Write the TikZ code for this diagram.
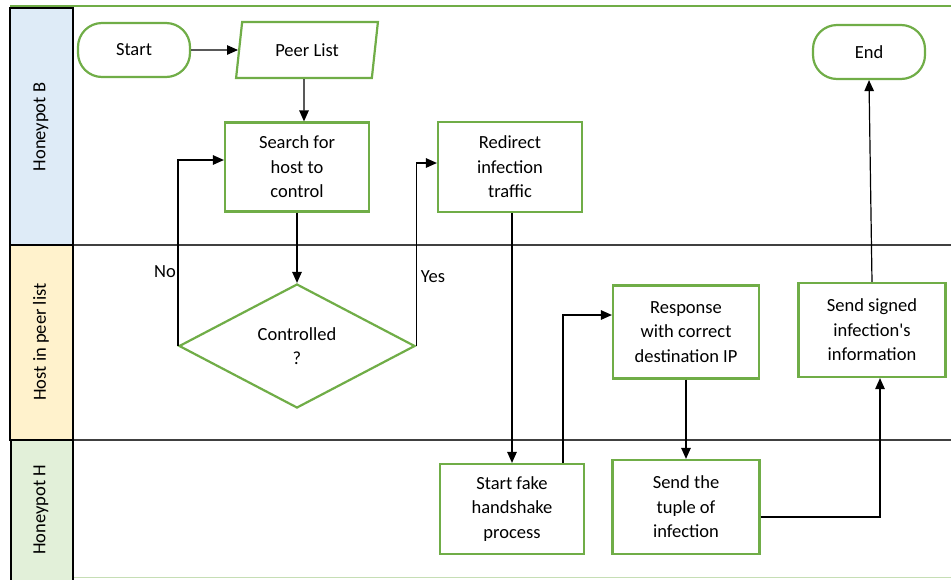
\documentclass[tikz,border=0pt]{standalone}
\usepackage{fontspec}
\setmainfont{Carlito}
\usetikzlibrary{shapes.geometric,arrows.meta}
\definecolor{grn}{HTML}{70AD47}
\definecolor{laneB}{HTML}{DEEBF7}
\definecolor{laneP}{HTML}{FFF2CC}
\definecolor{laneH}{HTML}{E2F0D9}
\definecolor{laneline}{HTML}{404040}
\begin{document}
\begin{tikzpicture}[x=1pt,y=-1pt,
  every node/.style={font=\fontsize{18.5}{24.5}\selectfont},
  proc/.style={draw=grn,line width=2.2pt,fill=white,align=center,inner sep=0pt},
  term/.style={proc,rounded corners=24pt,minimum width=112pt,minimum height=54pt},
  arr/.style={-{Triangle[length=11pt,width=9.5pt]},line width=1.2pt,black},
  lanebox/.style={draw=black,line width=2pt},
  lanetxt/.style={rotate=90}
]
\useasboundingbox (0,0) rectangle (951,579);
% top and bottom rules
\draw[grn,line width=2.5pt] (10,6) -- (951,6);
\draw[grn!40,line width=1pt] (73,577) -- (951,577);
% lane separators
\draw[laneline,line width=1.2pt] (73,245) -- (951,245);
\draw[laneline,line width=1.2pt] (73,440) -- (951,440);
% lane headers
\draw[lanebox,fill=laneB] (10,8) rectangle (73,245);
\draw[lanebox,fill=laneP] (10,245) rectangle (73,440);
\draw[lanebox,fill=laneH] (11,440) rectangle (73,582);
\node[lanetxt] (lB) at (41,127) {Honeypot B};
\node[lanetxt] (lP) at (41,342) {Host in peer list};
\node[lanetxt] (lH) at (41,510) {Honeypot H};
% nodes
\node[term] (start) at (134,50) {Start};
\node[proc,trapezium,trapezium left angle=77,trapezium right angle=103,trapezium stretches=true,minimum width=142pt,minimum height=56pt] (peer) at (307,50) {Peer List};
\node[proc,minimum width=144pt,minimum height=89pt] (search) at (297,167) {Search for\\host to\\control};
\node[proc,minimum width=144pt,minimum height=90pt] (redir) at (510,167) {Redirect\\infection\\traffic};
\node[term] (end) at (869,52) {End};
\node[proc,diamond,aspect=1.9,minimum width=236pt,minimum height=124pt] (dec) at (297,346) {Controlled\\?};
\node[proc,minimum width=146pt,minimum height=93pt] (resp) at (686,332) {Response\\with correct\\destination IP};
\node[proc,minimum width=147pt,minimum height=94pt] (signed) at (872,330) {Send signed\\infection\textquotesingle s\\information};
\node[proc,minimum width=144pt,minimum height=90pt] (fake) at (512,509) {Start fake\\handshake\\process};
\node[proc,minimum width=147pt,minimum height=94pt] (tuple) at (686,507) {Send the\\tuple of\\infection};
% labels
\node (no) at (165,272) {No};
\node (yes) at (433,277) {Yes};
% connectors
\draw[arr] (start) -- (peer);
\draw[arr] ([xshift=-3pt]peer.south) -- ([xshift=7pt]search.north);
\draw[arr] (search.south) -- (dec.north);
\draw[arr] (dec.west) |- ([yshift=7pt]search.west);
\draw[arr] (dec.east) |- ([yshift=4pt]redir.west);
\draw[arr] ([xshift=2pt]redir.south) -- ([xshift=0pt]fake.north);
\draw[arr] ([xshift=51pt]fake.north) |- ([yshift=17pt]resp.west);
\draw[arr] (resp.south) -- (tuple.north);
\draw[arr] ([yshift=-10pt]tuple.east) -| ([xshift=8pt]signed.south);
\draw[arr] (signed.north) -- (end.south);
\end{tikzpicture}
\end{document}
